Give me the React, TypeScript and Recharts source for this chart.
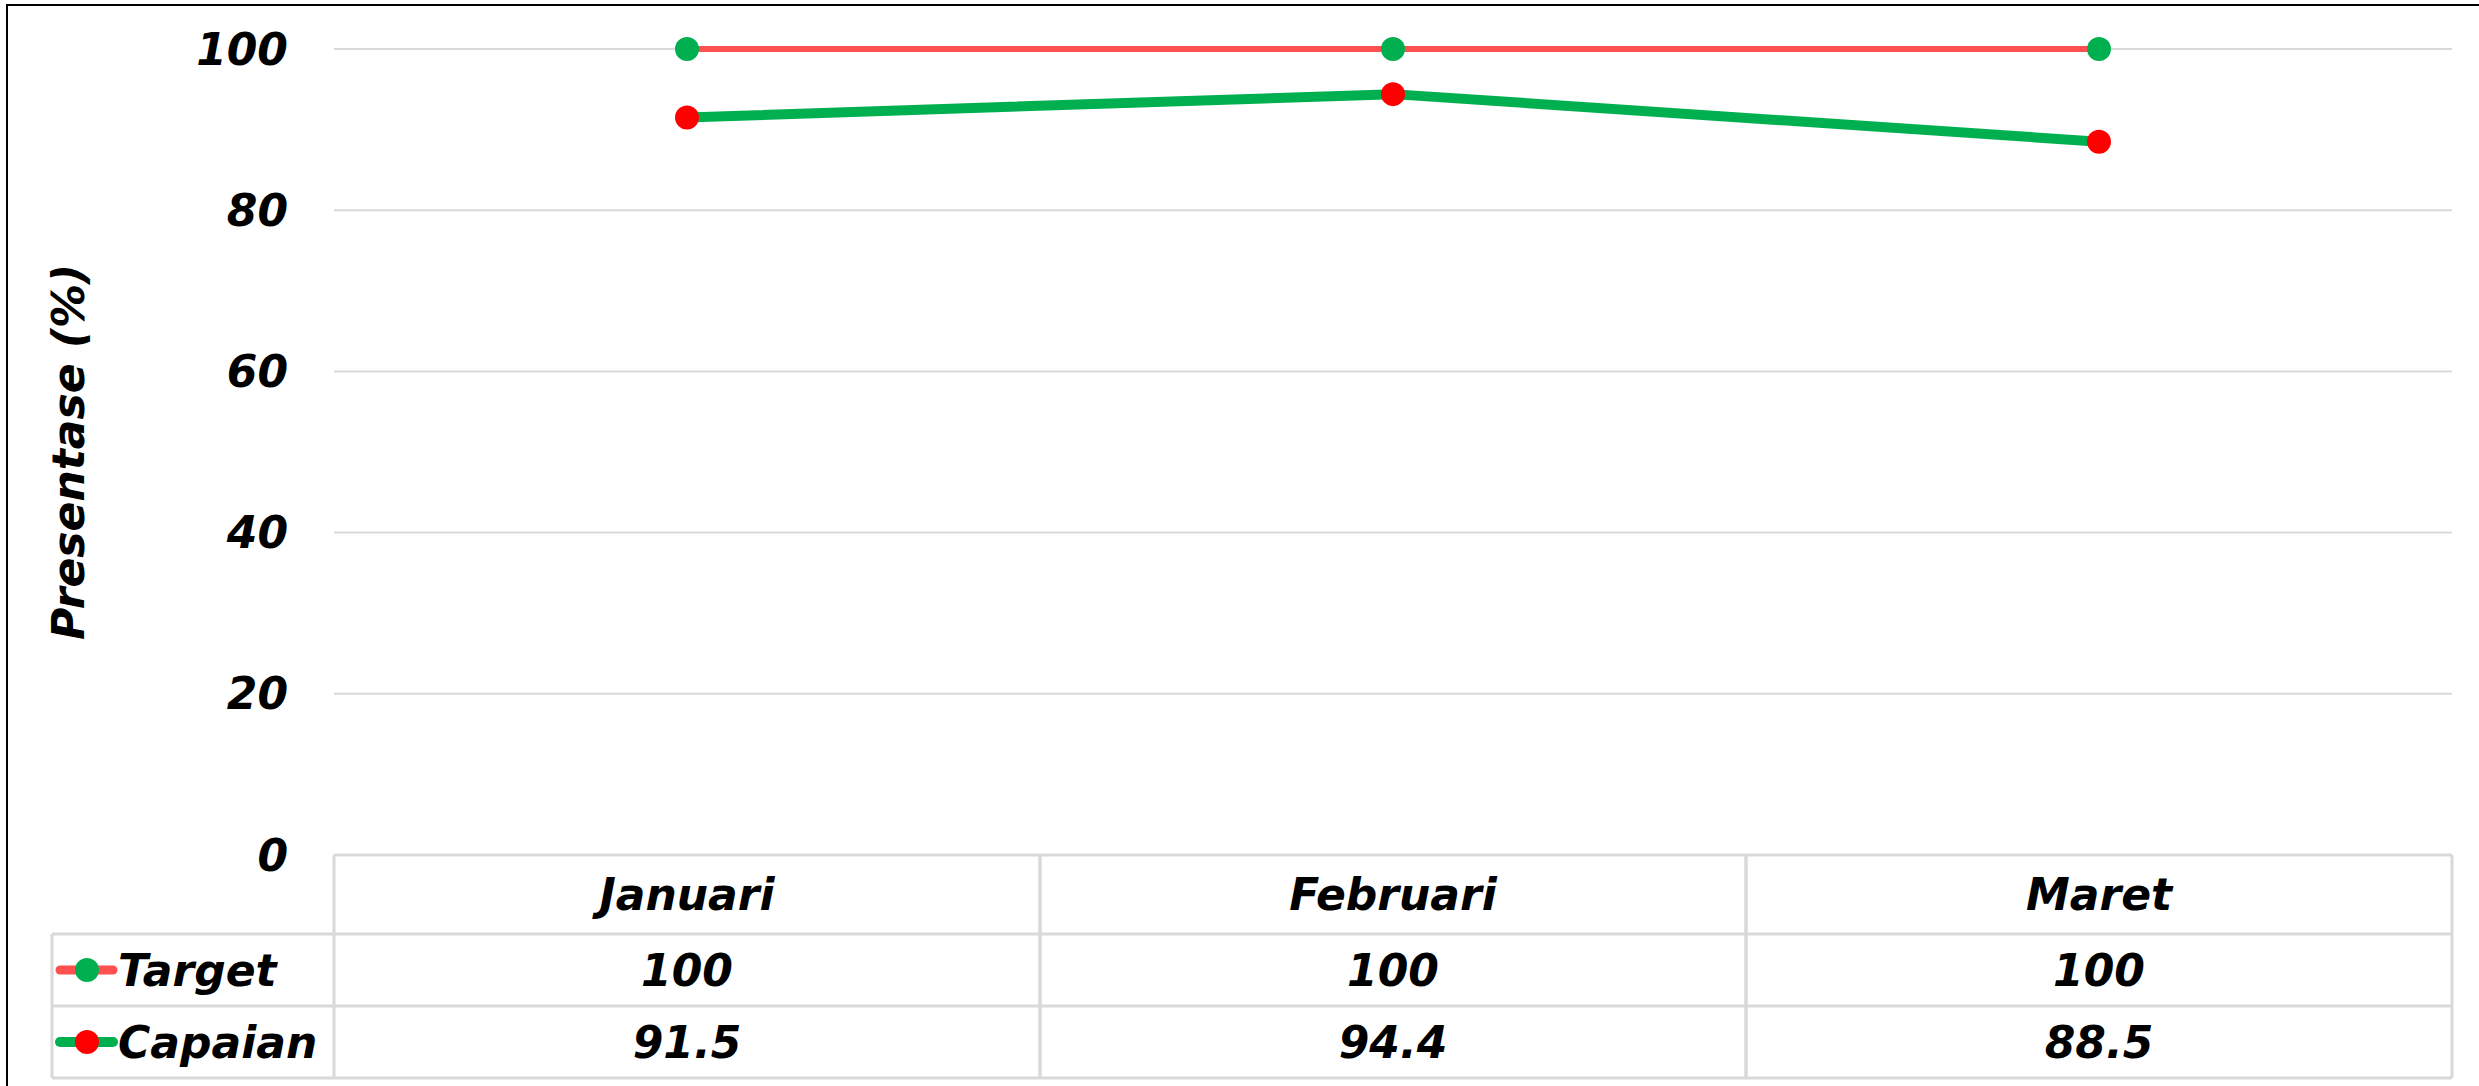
import React from "react";
import { LineChart, Line, XAxis, YAxis, CartesianGrid } from "recharts";

const months = ["Januari", "Februari", "Maret"];
const targetValues = [100, 100, 100];
const capaianValues = [91.5, 94.4, 88.5];
const yTicks = [0, 20, 40, 60, 80, 100];
const seriesNames = ["Target", "Capaian"];

const data = months.map((m, i) => ({
  month: m,
  Target: targetValues[i],
  Capaian: capaianValues[i],
}));

const W = 2479;
const H = 1086;
const LEFT = 334;
const RIGHT = 27;
const TOP = 49;
const TABLE_H = 231;
const BAND = (W - LEFT - RIGHT) / months.length;

const FONT = "'DejaVu Sans', sans-serif";
const GRID = "#D9D9D9";
const RED_LINE = "#FF5050";
const GREEN = "#00B050";
const RED_DOT = "#FF0000";

// row boundaries of the data table, relative to the axis top
const ROWS = [0, 79, 151, 223];

const textStyle = {
  fontFamily: FONT,
  fontStyle: "oblique",
  fontWeight: 700,
  fontSize: 44,
  fill: "#000",
};

const rowValues = [targetValues, capaianValues];
const keyColors = [
  { line: RED_LINE, dot: GREEN, w: 9 },
  { line: GREEN, dot: RED_DOT, w: 10 },
];

function TableTick(props: any) {
  const { x, y, payload, index } = props;
  const x0 = x - BAND / 2;
  const x1 = x + BAND / 2;
  const mid = (a: number, b: number) => y + (ROWS[a] + ROWS[b]) / 2;

  return (
    <g>
      {/* column cell */}
      <line x1={x0} y1={y} x2={x1} y2={y} stroke={GRID} strokeWidth={3} />
      {ROWS.slice(1).map((r) => (
        <line key={r} x1={x0} y1={y + r} x2={x1} y2={y + r} stroke={GRID} strokeWidth={3} />
      ))}
      <line x1={x0} y1={y} x2={x0} y2={y + ROWS[3]} stroke={GRID} strokeWidth={3} />
      <line x1={x1} y1={y} x2={x1} y2={y + ROWS[3]} stroke={GRID} strokeWidth={3} />
      <text x={x} y={mid(0, 1)} textAnchor="middle" dominantBaseline="central" style={textStyle}>
        {payload.value}
      </text>
      {rowValues.map((vals, r) => (
        <text
          key={r}
          x={x}
          y={mid(r + 1, r + 2)}
          textAnchor="middle"
          dominantBaseline="central"
          style={textStyle}
        >
          {vals[index]}
        </text>
      ))}

      {/* legend column on the left of the table */}
      {index === 0 && (
        <g>
          <line x1={52} y1={y + ROWS[1]} x2={52} y2={y + ROWS[3]} stroke={GRID} strokeWidth={3} />
          {ROWS.slice(1).map((r) => (
            <line key={r} x1={52} y1={y + r} x2={x0} y2={y + r} stroke={GRID} strokeWidth={3} />
          ))}
          {seriesNames.map((name, r) => {
            const cy = mid(r + 1, r + 2);
            const k = keyColors[r];
            return (
              <g key={name}>
                <line
                  x1={60}
                  y1={cy}
                  x2={113}
                  y2={cy}
                  stroke={k.line}
                  strokeWidth={k.w}
                  strokeLinecap="round"
                />
                <circle cx={87} cy={cy} r={12} fill={k.dot} />
                <text x={118} y={cy} dominantBaseline="central" style={textStyle}>
                  {name}
                </text>
              </g>
            );
          })}
        </g>
      )}
    </g>
  );
}

function YTick(props: any) {
  const { x, y, payload } = props;
  return (
    <text x={x} y={y} textAnchor="end" dominantBaseline="central" style={textStyle}>
      {payload.value}
    </text>
  );
}

function YTitle(props: any) {
  const vb = props.viewBox;
  const cy = vb.y + vb.height / 2;
  return (
    <text
      x={68}
      y={cy}
      transform={`rotate(-90 68 ${cy})`}
      textAnchor="middle"
      dominantBaseline="central"
      style={textStyle}
    >
      Presentase (%)
    </text>
  );
}

export default function App() {
  return (
    <div
      style={{
        position: "absolute",
        left: 0,
        top: 0,
        width: W,
        height: H,
        overflow: "hidden",
        background: "#fff",
      }}
    >
      <div
        style={{
          position: "absolute",
          left: 6,
          top: 4,
          width: W,
          height: H,
          borderLeft: "2px solid #000",
          borderTop: "2px solid #000",
          boxSizing: "border-box",
        }}
      />
      <div style={{ position: "absolute", left: 0, top: 0 }}>
        <LineChart
          width={W}
          height={H}
          data={data}
          margin={{ top: TOP, right: RIGHT, bottom: 0, left: 0 }}
        >
          <CartesianGrid vertical={false} stroke={GRID} strokeWidth={2} />
          <XAxis
            dataKey="month"
            height={TABLE_H}
            axisLine={false}
            tickLine={false}
            tickSize={0}
            tickMargin={0}
            interval={0}
            padding={{ left: BAND / 2, right: BAND / 2 }}
            tick={<TableTick />}
          />
          <YAxis
            width={LEFT}
            domain={[0, 100]}
            ticks={yTicks}
            axisLine={false}
            tickLine={false}
            tickSize={0}
            tickMargin={46}
            tick={<YTick />}
            label={<YTitle />}
          />
          <Line
            type="linear"
            dataKey="Target"
            stroke={RED_LINE}
            strokeWidth={6}
            dot={{ r: 12, fill: GREEN, stroke: "none" }}
            activeDot={false}
            isAnimationActive={false}
          />
          <Line
            type="linear"
            dataKey="Capaian"
            stroke={GREEN}
            strokeWidth={10}
            dot={{ r: 12, fill: RED_DOT, stroke: "none" }}
            activeDot={false}
            isAnimationActive={false}
          />
        </LineChart>
      </div>
    </div>
  );
}
